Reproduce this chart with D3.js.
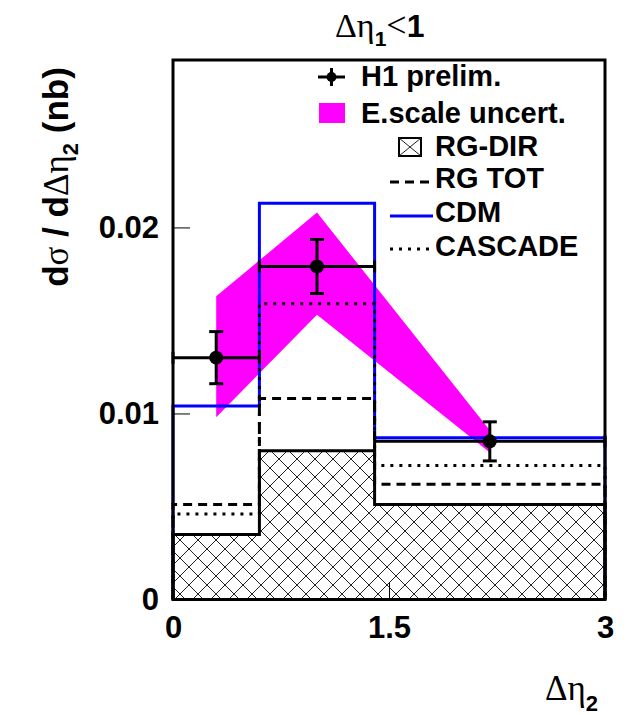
<!DOCTYPE html>
<html>
<head>
<meta charset="utf-8">
<script src="https://cdn.jsdelivr.net/npm/d3@7"></script>
<style>
  body { margin: 0; background: #fff; }
  text { font-family: "Liberation Sans", Arial, sans-serif; font-weight: bold; }
  .greek { font-family: "Liberation Serif", "Times New Roman", serif; font-weight: normal; }
</style>
</head>
<body>
<svg id="chart" width="628" height="715"></svg>
<script>
// Bin edges in delta eta_2 and the measured points
const binEdges = [0, 0.6, 1.4, 3];
const dataX = [0.3, 1.0, 2.2];
const dataY = [0.0130, 0.0179, 0.0085];
const dataErr = [0.0014, 0.00145, 0.00105];

// Energy scale uncertainty band
const bandX = [0.3, 1.0, 2.2];
const bandLow = [0.0098, 0.0153, 0.0079];
const bandHigh = [0.0163, 0.0208, 0.0091];

// Model predictions per bin
const rgDir = [0.0035, 0.0080, 0.0051];
const rgTot = [0.0051, 0.0108, 0.0062];
const cdm = [0.0104, 0.0213, 0.0087];
const cascade = [0.0046, 0.0159, 0.0072];

const xTicks = [0, 1.5, 3];
const yTicks = [0, 0.01, 0.02];

const svg = d3.select("#chart");
const plotLeft = 173, plotRight = 605, plotTop = 60, plotBottom = 599.5;

const x = d3.scaleLinear().domain([0, 3]).range([plotLeft, plotRight]);
const y = d3.scaleLinear().domain([0, 0.029]).range([plotBottom, plotTop]);

// Hatch pattern for RG-DIR
const defs = svg.append("defs");
const pat = defs.append("pattern")
    .attr("id", "hatch")
    .attr("patternUnits", "userSpaceOnUse")
    .attr("width", 18).attr("height", 18);
pat.append("path")
    .attr("d", "M0,0L18,18M18,0L0,18M-9,9L9,27M9,-9L27,9M-9,9L9,-9M9,27L27,9")
    .attr("stroke", "#222")
    .attr("stroke-width", 1);

// Turn bin values into a closed step outline
function stepPoints(vals) {
    const pts = [[binEdges[0], 0]];
    vals.forEach((v, i) => {
        pts.push([binEdges[i], v]);
        pts.push([binEdges[i + 1], v]);
    });
    pts.push([binEdges[binEdges.length - 1], 0]);
    return pts;
}
const stepLine = d3.line().x(d => x(d[0])).y(d => y(d[1]));

// RG-DIR hatched area
svg.append("path")
    .attr("d", stepLine(stepPoints(rgDir)))
    .attr("fill", "url(#hatch)");

// E.scale band
const bandPts = bandX.map((v, i) => [v, bandHigh[i]])
    .concat(bandX.map((v, i) => [v, bandLow[i]]).reverse());
svg.append("path")
    .attr("d", stepLine(bandPts) + "Z")
    .attr("fill", "#ff00ff");

// Model histograms
const models = [
    { vals: cdm, color: "#0000ff", dash: null },
    { vals: rgTot, color: "#000", dash: "9,6" },
    { vals: cascade, color: "#000", dash: "3,6" },
    { vals: rgDir, color: "#000", dash: null }
];
models.forEach(m => {
    svg.append("path")
        .attr("d", stepLine(stepPoints(m.vals)))
        .attr("fill", "none")
        .attr("stroke", m.color)
        .attr("stroke-width", 3)
        .attr("stroke-dasharray", m.dash);
});

// Axes (ticks inside the frame)
const yAxis = svg.append("g")
    .attr("transform", `translate(${plotLeft},0)`)
    .call(d3.axisLeft(y).tickValues(yTicks).tickSize(-17).tickPadding(14)
        .tickFormat(d => d));
const xAxis = svg.append("g")
    .attr("transform", `translate(0,${plotBottom})`)
    .call(d3.axisBottom(x).tickValues(xTicks).tickSize(-17).tickPadding(16)
        .tickFormat(d => d));
[yAxis, xAxis].forEach(a => {
    a.select(".domain").remove();
    a.selectAll("line").attr("stroke", "#000").attr("stroke-width", 1);
    a.selectAll("text").attr("font-size", 31).attr("font-weight", "bold")
        .attr("font-family", "Liberation Sans, Arial, sans-serif").attr("fill", "#000");
});

// Data points with error bars
const pts = svg.append("g");
dataX.forEach((v, i) => {
    const cx = x(v), cy = y(dataY[i]);
    const x0 = x(binEdges[i]), x1 = x(binEdges[i + 1]);
    const yt = y(dataY[i] + dataErr[i]), yb = y(dataY[i] - dataErr[i]);
    const segs = [
        [x0, cy, x1, cy], [cx, yt, cx, yb],
        [cx - 7, yt, cx + 7, yt], [cx - 7, yb, cx + 7, yb],
        [x0, cy - 6, x0, cy + 6], [x1, cy - 6, x1, cy + 6]
    ];
    segs.forEach(s => {
        pts.append("line")
            .attr("x1", s[0]).attr("y1", s[1]).attr("x2", s[2]).attr("y2", s[3])
            .attr("stroke", "#000").attr("stroke-width", 3);
    });
    pts.append("circle").attr("cx", cx).attr("cy", cy).attr("r", 7).attr("fill", "#000");
});

// Frame
svg.append("rect")
    .attr("x", plotLeft).attr("y", plotTop)
    .attr("width", plotRight - plotLeft).attr("height", plotBottom - plotTop)
    .attr("fill", "none").attr("stroke", "#000").attr("stroke-width", 3);

// Legend
const lg = svg.append("g");
lg.append("line").attr("x1", 318).attr("x2", 345).attr("y1", 77).attr("y2", 77)
    .attr("stroke", "#000").attr("stroke-width", 3);
lg.append("line").attr("x1", 331.5).attr("x2", 331.5).attr("y1", 68).attr("y2", 86)
    .attr("stroke", "#000").attr("stroke-width", 3);
lg.append("circle").attr("cx", 331.5).attr("cy", 77).attr("r", 5).attr("fill", "#000");
lg.append("text").attr("x", 361).attr("y", 86).attr("font-size", 29).text("H1 prelim.");

lg.append("rect").attr("x", 319).attr("y", 103).attr("width", 26).attr("height", 20)
    .attr("fill", "#ff00ff");
lg.append("text").attr("x", 361).attr("y", 123).attr("font-size", 29).text("E.scale uncert.");

lg.append("rect").attr("x", 399).attr("y", 138).attr("width", 22).attr("height", 18)
    .attr("fill", "#fff").attr("stroke", "#000").attr("stroke-width", 2);
lg.append("path").attr("d", "M399,138L421,156M421,138L399,156")
    .attr("stroke", "#222").attr("stroke-width", 1);
lg.append("text").attr("x", 435).attr("y", 156).attr("font-size", 29).text("RG-DIR");

const lineItems = [
    { label: "RG TOT", y: 182, color: "#000", dash: "9,6", base: 188 },
    { label: "CDM", y: 216, color: "#0000ff", dash: null, base: 222 },
    { label: "CASCADE", y: 249, color: "#000", dash: "3,6", base: 256 }
];
lineItems.forEach(d => {
    lg.append("line").attr("x1", 390).attr("x2", 433).attr("y1", d.y).attr("y2", d.y)
        .attr("stroke", d.color).attr("stroke-width", 3).attr("stroke-dasharray", d.dash);
    lg.append("text").attr("x", 435).attr("y", d.base).attr("font-size", 29).text(d.label);
});

// Title
const title = svg.append("text").attr("x", 335).attr("y", 37).attr("font-size", 34);
title.append("tspan").attr("class", "greek").text("Δη");
title.append("tspan").attr("font-size", 21).attr("dy", 9).text("1");
title.append("tspan").attr("class", "greek").attr("dy", -9).attr("font-size", 36).text("<");
title.append("tspan").attr("font-size", 32).text("1");

// X axis label
const xl = svg.append("text").attr("x", 545).attr("y", 700).attr("font-size", 35);
xl.append("tspan").attr("class", "greek").text("Δη");
xl.append("tspan").attr("font-size", 22).attr("dy", 11).text("2");

// Y axis label
const yl = svg.append("text")
    .attr("transform", "translate(68,177) rotate(-90)")
    .attr("text-anchor", "middle")
    .attr("font-size", 35);
yl.append("tspan").text("d");
yl.append("tspan").attr("class", "greek").text("σ");
yl.append("tspan").text(" / d");
yl.append("tspan").attr("class", "greek").text("Δη");
yl.append("tspan").attr("font-size", 22).attr("dy", 10).text("2");
yl.append("tspan").attr("dy", -10).text(" (nb)");
</script>
</body>
</html>
